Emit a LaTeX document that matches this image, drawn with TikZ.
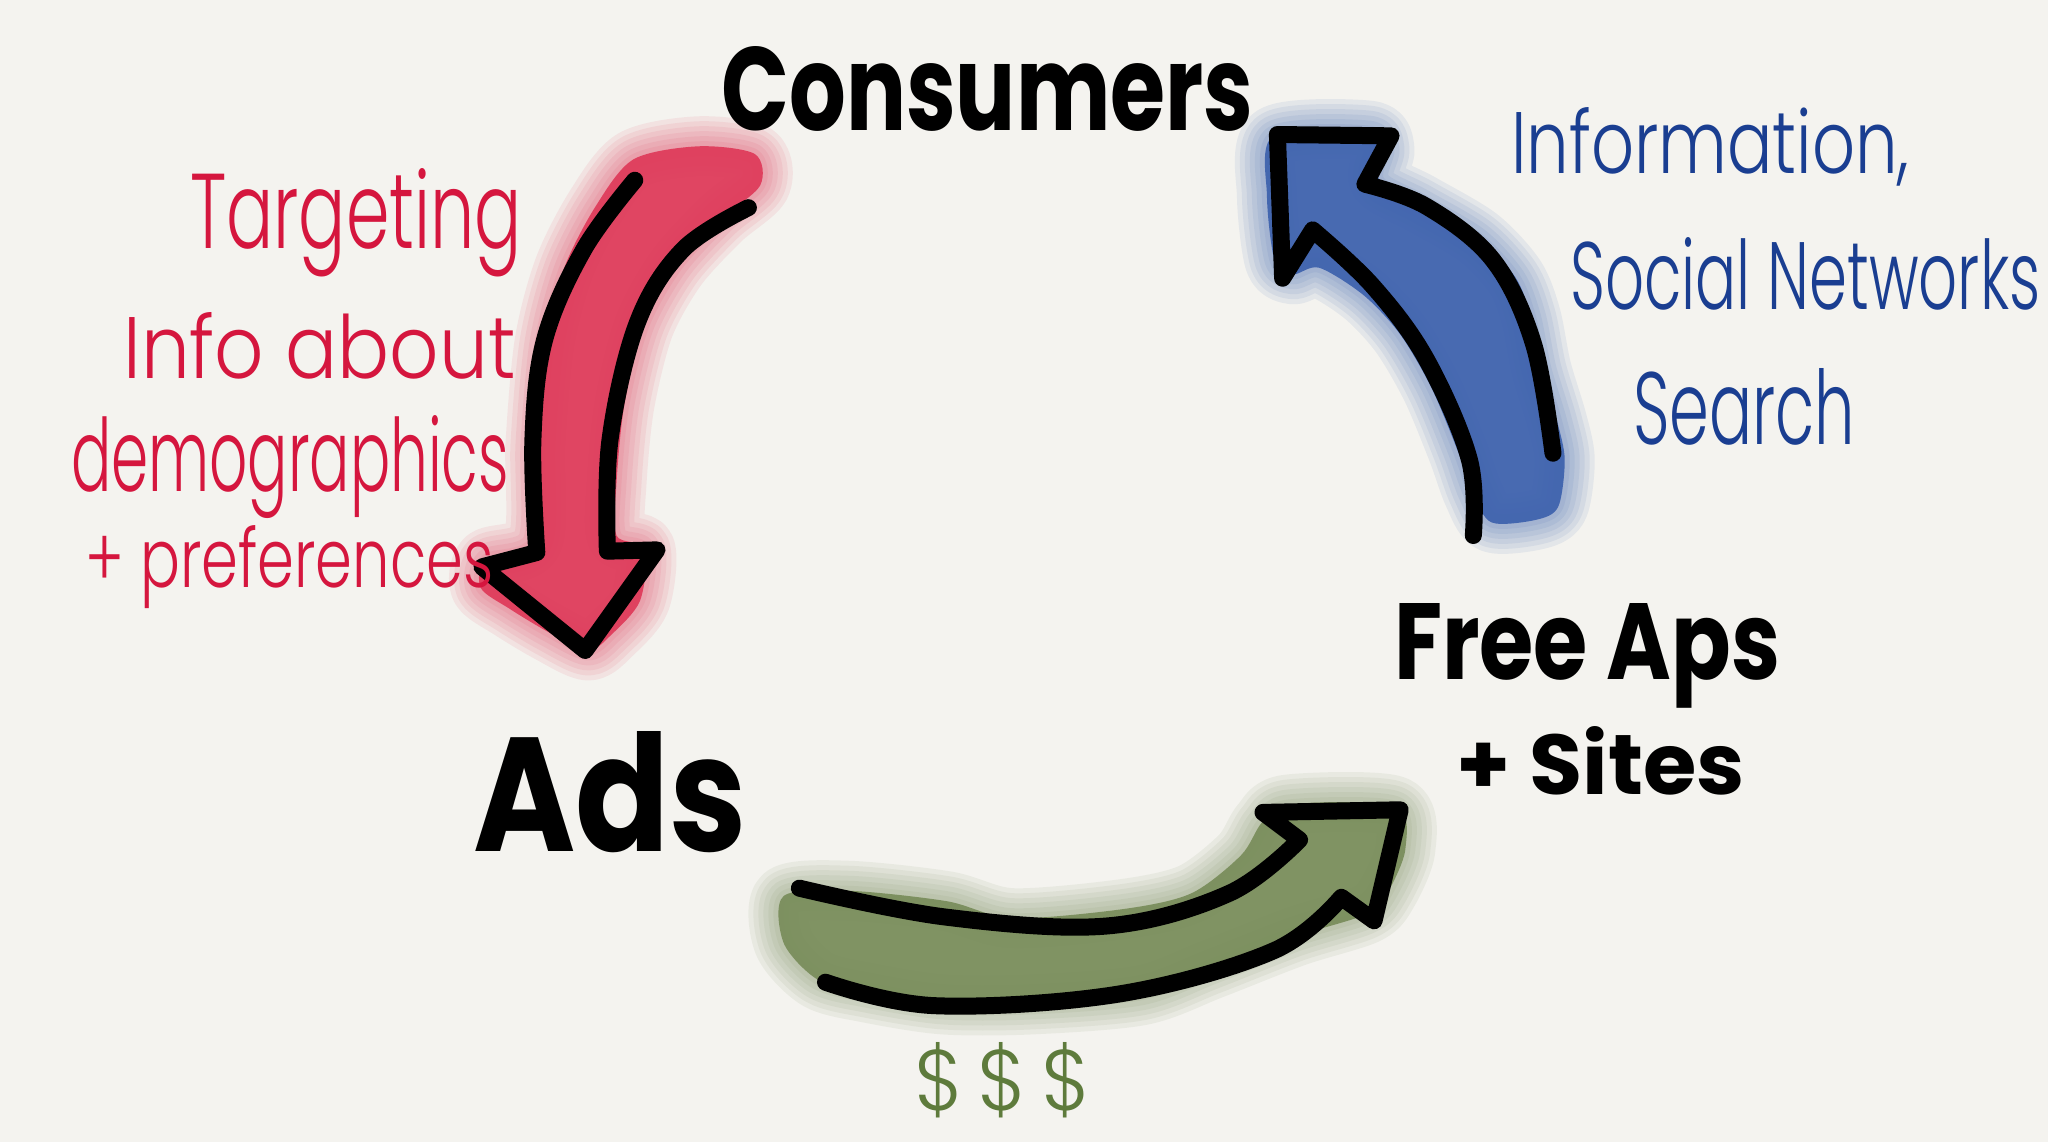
\documentclass[tikz,border=0pt]{standalone}
\usepackage{fontspec}
\usepackage{graphicx}
\newfontfamily\markerfont{Poppins}
\newfontfamily\penfont{Poppins Light}
\definecolor{paper}{HTML}{F4F3EF}
\definecolor{redW}{HTML}{DF3C5B}
\definecolor{blueW}{HTML}{3F63AE}
\definecolor{greenW}{HTML}{7A8E5C}
\definecolor{redT}{HTML}{D5163E}
\definecolor{blueT}{HTML}{1A3E91}
\definecolor{greenT}{HTML}{5E7B3C}
\tikzset{
  outline/.style={draw=black, line width=8.5pt, line cap=round, line join=round},
  big/.style={inner sep=0pt, text=black},
  pen/.style={inner sep=0pt},
  halo/.style={line join=round, line width=#1, opacity=0.09}
}
\begin{document}
\begin{tikzpicture}[x=0.6531pt, y=-0.6531pt]
\fill[paper] (0,0) rectangle (1568,874);
\useasboundingbox (0,0) rectangle (1568,874);

% ---------- washes ----------
\path[save path=\redpath] plot[smooth cycle, tension=0.5] coordinates {(485,122) (535,112) (578,118) (582,142) (552,168) (518,205) (493,250) (478,310) (472,370) (472,410) (494,420) (490,460) (468,486) (450,498) (420,484) (390,466) (368,450) (372,428) (408,414) (410,340) (417,262) (432,205) (456,158)};
\path[save path=\bluepath] plot[smooth cycle, tension=0.5] coordinates {(975,104) (1048,100) (1060,114) (1056,138) (1088,156) (1132,182) (1160,212) (1172,242) (1180,282) (1192,322) (1198,352) (1193,388) (1176,398) (1142,400) (1128,378) (1116,345) (1096,297) (1072,256) (1044,226) (1010,205) (990,210) (976,200) (970,150)};
\path[save path=\greenpath] plot[smooth cycle, tension=0.5] coordinates {(600,686) (650,682) (725,690) (775,703) (860,696) (912,684) (950,655) (966,630) (986,616) (1068,617) (1076,650) (1062,684) (1046,700) (992,717) (928,742) (874,762) (790,769) (722,769) (664,760) (626,750) (600,722)};

\foreach \w in {30pt,25pt,20pt,15pt,10pt,5pt}{
  \draw[redW, halo=\w, use path=\redpath];
  \draw[blueW, halo=\w, use path=\bluepath];
  \draw[greenW, halo=\w, use path=\greenpath];
}
\fill[redW, fill opacity=0.95, use path=\redpath];
\fill[blueW, fill opacity=0.95, use path=\bluepath];
\fill[greenW, fill opacity=0.95, use path=\greenpath];

% ---------- arrow outlines ----------
\draw[outline] plot[smooth, tension=0.6] coordinates {(486,138) (447,191) (417,260) (408,337) (411,423)}
  -- (369,434) -- (448,498) -- (503,421) -- (465,422)
  -- plot[smooth, tension=0.6] coordinates {(465,422) (467,337) (488,247) (523,191) (573,159)};

\draw[outline] plot[smooth, tension=0.6] coordinates {(1128,410) (1125,352) (1092,275) (1051,219) (1005,176)}
  -- (982,213) -- (978,103) -- (1065,104) -- (1045,141)
  -- plot[smooth, tension=0.6] coordinates {(1045,141) (1092,158) (1143,199) (1174,263) (1189,347)};

\draw[outline] plot[smooth, tension=0.6] coordinates {(612,680) (723,702) (847,709) (941,684) (995,643)}
  -- (967,622) -- (1072,620) -- (1052,705) -- (1027,687)
  -- plot[smooth, tension=0.6] coordinates {(1027,687) (975,728) (857,761) (716,770) (632,752)};

% ---------- black labels ----------
\node[big, anchor=base west] (consumers) at (552,100) {\resizebox{266pt}{42pt}{\markerfont\bfseries Consumers}};
\node[big, anchor=base west] (freeaps) at (1067,520) {\resizebox{193pt}{38pt}{\markerfont\bfseries Free Aps}};
\node[big, anchor=base west] (sites) at (1115,608) {\resizebox{144pt}{34pt}{\markerfont\bfseries + Sites}};
\node[big, anchor=base west] (ads) at (362,652) {\resizebox{137pt}{60pt}{\markerfont\bfseries Ads}};

% ---------- red notes ----------
\node[pen, text=redT, anchor=base east] (t1) at (400,190) {\resizebox{166pt}{40pt}{\penfont Targeting}};
\node[pen, text=redT, anchor=base east] (t2) at (395,290) {\resizebox{196pt}{33pt}{\penfont Info about}};
\node[pen, text=redT, anchor=base east] (t3) at (390,376) {\resizebox{219pt}{38pt}{\penfont demographics}};
\node[pen, text=redT, anchor=base east] (t4) at (378,450) {\resizebox{204pt}{31pt}{\penfont + preferences}};

% ---------- blue notes ----------
\node[pen, text=blueT, anchor=base west] (b1) at (1157,133) {\resizebox{199pt}{33pt}{\penfont Information,}};
\node[pen, text=blueT, anchor=base west] (b2) at (1202,237) {\resizebox{235pt}{36pt}{\penfont Social Networks}};
\node[pen, text=blueT, anchor=base west] (b3) at (1250,340) {\resizebox{111pt}{38pt}{\penfont Search}};

% ---------- green note ----------
\node[pen, text=greenT, anchor=base west] (money) at (700,850) {\resizebox{88pt}{34pt}{\penfont \$\,\$\,\$}};
\end{tikzpicture}
\end{document}
